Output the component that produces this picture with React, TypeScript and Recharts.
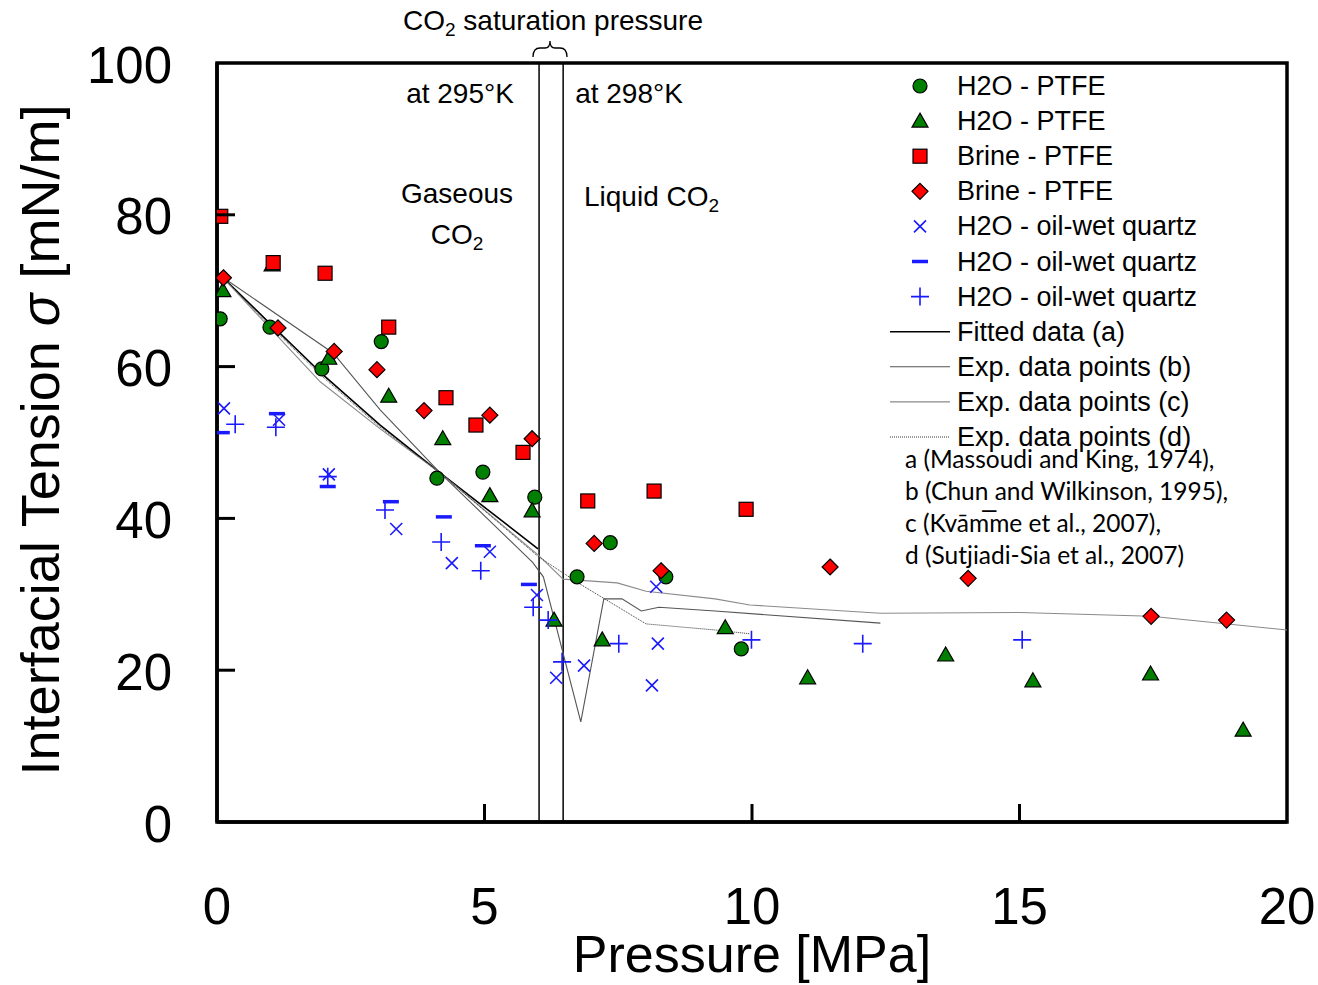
import React from 'react';
import { ScatterChart, Scatter, XAxis, YAxis, ReferenceLine, ReferenceArea } from 'recharts';

// ---------- data ----------
const h2oPtfeCircle: [number, number][] = [
  [0.06, 66.3], [0.99, 65.2], [1.96, 59.7], [3.07, 63.3], [4.11, 45.3], [4.97, 46.1],
  [5.94, 42.8], [6.73, 32.3], [7.35, 36.8], [8.39, 32.3], [9.8, 22.8],
];
const h2oPtfeTriangle: [number, number][] = [
  [0.11, 70.0], [1.03, 73.4], [2.09, 61.1], [3.21, 56.1], [4.22, 50.5], [5.1, 43.0],
  [5.89, 41.0], [6.3, 26.6], [7.2, 24.0], [9.5, 25.6], [11.04, 19.0], [13.62, 22.0],
  [15.25, 18.6], [17.45, 19.5], [19.18, 12.1],
];
const brinePtfeSquare: [number, number][] = [
  [0.07, 79.8], [1.05, 73.7], [2.02, 72.3], [3.21, 65.2], [4.28, 55.9], [4.84, 52.3],
  [5.72, 48.7], [6.93, 42.3], [8.17, 43.6], [9.89, 41.2],
];
const brinePtfeDiamond: [number, number][] = [
  [0.12, 71.7], [1.14, 65.1], [2.19, 62.0], [2.99, 59.6], [3.87, 54.2], [5.1, 53.6],
  [5.89, 50.5], [7.05, 36.7], [8.3, 33.1], [11.46, 33.6], [14.04, 32.1], [17.46, 27.1],
  [18.87, 26.6],
];
const h2oQuartzCross: [number, number][] = [
  [0.13, 54.5], [1.16, 53.0], [2.09, 45.8], [3.35, 38.6], [4.39, 34.1], [5.1, 35.6],
  [5.98, 29.9], [6.34, 19.0], [6.86, 20.6], [8.21, 31.0], [8.24, 23.5], [8.13, 18.0],
];
const h2oQuartzDash: [number, number][] = [
  [0.09, 51.3], [1.12, 53.8], [2.07, 44.2], [3.25, 42.2], [4.24, 40.2], [4.97, 36.4],
  [5.83, 31.3],
];
const h2oQuartzPlus: [number, number][] = [
  [0.34, 52.4], [1.1, 52.0], [2.07, 45.5], [3.14, 41.1], [4.19, 36.9], [4.93, 33.1],
  [5.91, 28.3], [6.19, 26.6], [6.45, 21.1], [7.51, 23.5], [9.99, 24.0], [12.07, 23.5],
  [15.05, 24.0],
];
const fittedA: [number, number][] = [
  [0.1, 71.8], [1.0, 65.6], [2.0, 58.8], [3.05, 52.3], [4.17, 46.0], [6.0, 36.0],
];
const expB: [number, number][] = [
  [0.1, 71.8], [2.17, 61.8], [3.05, 54.3], [4.17, 46.0], [5.9, 34.2], [6.1, 32.3],
  [6.8, 13.2], [7.23, 29.4], [7.57, 29.4], [7.93, 27.8], [8.26, 28.3], [9.31, 27.8],
  [12.4, 26.2],
];
const expC: [number, number][] = [
  [0.1, 71.8], [1.0, 65.0], [1.93, 58.0], [3.05, 51.8], [4.17, 46.0], [6.0, 35.2],
  [6.47, 32.0], [7.48, 31.5], [8.02, 30.4], [9.31, 29.4], [9.96, 28.6], [12.4, 27.5],
  [15.0, 27.6], [17.46, 27.1], [20.0, 25.3],
];
const expD: [number, number][] = [
  [0.1, 71.8], [1.0, 65.3], [2.0, 58.5], [3.05, 52.0], [4.17, 46.0], [6.0, 35.0],
  [6.75, 31.5], [8.02, 26.1], [9.31, 25.3], [9.96, 24.8],
];
const xTicks = [0, 5, 10, 15, 20];
const yTicks = [0, 20, 40, 60, 80, 100];
const saturationPressures = [6.02, 6.47];

const toPts = (a: [number, number][]) => a.map(([x, y]) => ({ x, y }));

// ---------- styles ----------
const GREEN = '#007f00';
const RED = '#ff0000';
const BLUE = '#1a1aff';
const FONT = '"Liberation Sans", Arial, sans-serif';

const CircleM = ({ cx, cy }: any) => (
  <circle cx={cx} cy={cy} r={7} fill={GREEN} stroke="#000" strokeWidth={1.2} />
);
const TriM = ({ cx, cy }: any) => (
  <path d={`M${cx},${cy - 8}L${cx + 8},${cy + 6}L${cx - 8},${cy + 6}Z`} fill={GREEN} stroke="#000" strokeWidth={1.2} />
);
const SquareM = ({ cx, cy }: any) => (
  <rect x={cx - 7} y={cy - 7} width={14} height={14} fill={RED} stroke="#000" strokeWidth={1.2} />
);
const DiamondM = ({ cx, cy }: any) => (
  <path d={`M${cx},${cy - 8}L${cx + 8},${cy}L${cx},${cy + 8}L${cx - 8},${cy}Z`} fill={RED} stroke="#000" strokeWidth={1.2} />
);
const CrossM = ({ cx, cy }: any) => (
  <path d={`M${cx - 6},${cy - 6}L${cx + 6},${cy + 6}M${cx + 6},${cy - 6}L${cx - 6},${cy + 6}`} stroke={BLUE} strokeWidth={1.6} fill="none" />
);
const DashM = ({ cx, cy }: any) => (
  <line x1={cx - 8} x2={cx + 8} y1={cy} y2={cy} stroke={BLUE} strokeWidth={3.5} />
);
const PlusM = ({ cx, cy }: any) => (
  <path d={`M${cx - 9},${cy}L${cx + 9},${cy}M${cx},${cy - 9}L${cx},${cy + 9}`} stroke={BLUE} strokeWidth={1.6} fill="none" />
);
const NoShape = () => <g />;

const markerSeries = [
  { name: 'H2O - PTFE', data: h2oPtfeCircle, Shape: CircleM },
  { name: 'H2O - PTFE', data: h2oPtfeTriangle, Shape: TriM },
  { name: 'Brine - PTFE', data: brinePtfeSquare, Shape: SquareM },
  { name: 'Brine - PTFE', data: brinePtfeDiamond, Shape: DiamondM },
  { name: 'H2O - oil-wet quartz', data: h2oQuartzCross, Shape: CrossM },
  { name: 'H2O - oil-wet quartz', data: h2oQuartzDash, Shape: DashM },
  { name: 'H2O - oil-wet quartz', data: h2oQuartzPlus, Shape: PlusM },
];
const lineSeries = [
  { name: 'Fitted data (a)', data: fittedA, stroke: '#000', width: 1.6, dash: undefined as string | undefined },
  { name: 'Exp. data points (b)', data: expB, stroke: '#555', width: 1.1, dash: undefined },
  { name: 'Exp. data points (c)', data: expC, stroke: '#8a8a8a', width: 1.1, dash: undefined },
  { name: 'Exp. data points (d)', data: expD, stroke: '#333', width: 1, dash: '1 1' },
];
const citations = [
  'a (Massoudi and King, 1974),',
  'b (Chun and Wilkinson, 1995),',
  'c (Kva\u0304m\u0305me et al., 2007),',
  'd (Sutjiadi-Sia et al., 2007)',
];

const X_GAP = 84;
const Y_GAP = 45;
const TICK_LEN = 18;

const XTick = ({ x, y, payload }: any) => {
  const v = payload.value;
  const inner = v !== xTicks[0] && v !== xTicks[xTicks.length - 1];
  return (
    <g>
      <text x={x} y={y} textAnchor="middle" dominantBaseline="central" fontSize={51} fontFamily={FONT} fill="#000">
        {v}
      </text>
      {inner && <line x1={x} x2={x} y1={y - X_GAP} y2={y - X_GAP - TICK_LEN} stroke="#000" strokeWidth={3} />}
    </g>
  );
};
const YTick = ({ x, y, payload }: any) => {
  const v = payload.value;
  const inner = v !== yTicks[0] && v !== yTicks[yTicks.length - 1];
  return (
    <g>
      <text x={x} y={y + 2} textAnchor="end" dominantBaseline="central" fontSize={51} fontFamily={FONT} fill="#000">
        {v}
      </text>
      {inner && <line x1={x + Y_GAP} x2={x + Y_GAP + TICK_LEN} y1={y} y2={y} stroke="#000" strokeWidth={3} />}
    </g>
  );
};

export default function App() {
  const legendX = 920;
  const legendY0 = 86;
  const legendStep = 35.1;
  return (
    <div style={{ position: 'absolute', left: 0, top: 0, width: 1318, height: 985, background: '#fff' }}>
      <ScatterChart width={1318} height={985} margin={{ top: 63, right: 31, bottom: 103, left: 157 }}>
        <XAxis
          type="number"
          dataKey="x"
          domain={[0, 20]}
          ticks={xTicks}
          allowDataOverflow
          height={60}
          axisLine={{ stroke: '#000', strokeWidth: 3.5 }}
          tickLine={false}
          tickSize={0}
          tickMargin={X_GAP}
          tick={<XTick />}
          interval={0}
        />
        <YAxis
          type="number"
          dataKey="y"
          domain={[0, 100]}
          ticks={yTicks}
          allowDataOverflow
          width={60}
          axisLine={{ stroke: '#000', strokeWidth: 3.5 }}
          tickLine={false}
          tickSize={0}
          tickMargin={Y_GAP}
          tick={<YTick />}
          interval={0}
        />
        <ReferenceArea x1={0} x2={20} y1={0} y2={100} fill="none" stroke="#000" strokeWidth={3.5} />
        {saturationPressures.map((p) => (
          <ReferenceLine key={p} x={p} stroke="#000" strokeWidth={1.5} />
        ))}
        {lineSeries.map((s, i) => (
          <Scatter
            key={'l' + i}
            name={s.name}
            data={toPts(s.data)}
            line={{ stroke: s.stroke, strokeWidth: s.width, strokeDasharray: s.dash, fill: 'none' }}
            shape={NoShape}
            legendType="none"
            isAnimationActive={false}
          />
        ))}
        {markerSeries.map((s, i) => (
          <Scatter
            key={'m' + i}
            name={s.name}
            data={toPts(s.data)}
            shape={(p: any) => <s.Shape cx={p.cx} cy={p.cy} />}
            isAnimationActive={false}
          />
        ))}
      </ScatterChart>
      <svg width={1318} height={985} style={{ position: 'absolute', left: 0, top: 0, pointerEvents: 'none' }}>
        <g fontFamily={FONT} fill="#000">
          {/* axis titles */}
          <text x={752} y={972} textAnchor="middle" fontSize={52}>Pressure [MPa]</text>
          <text transform="translate(40,440) rotate(-90)" textAnchor="middle" dominantBaseline="central" fontSize={54}>
            Interfacial Tension <tspan fontStyle="italic">σ</tspan> [mN/m]
          </text>
          {/* annotations */}
          <text x={553} y={30} textAnchor="middle" fontSize={28}>
            CO<tspan fontSize={19} dy={6}>2</tspan><tspan dy={-6}> saturation pressure</tspan>
          </text>
          <path d="M533,57 Q533,48 540,48 L545,48 Q550,48 550,41 Q550,48 555,48 L560,48 Q567,48 567,57" fill="none" stroke="#000" strokeWidth={1.3} />
          <text x={460} y={103} textAnchor="middle" fontSize={28}>at 295°K</text>
          <text x={629} y={103} textAnchor="middle" fontSize={28}>at 298°K</text>
          <text x={457} y={203} textAnchor="middle" fontSize={28}>Gaseous</text>
          <text x={457} y={244} textAnchor="middle" fontSize={28}>
            CO<tspan fontSize={19} dy={6}>2</tspan>
          </text>
          <text x={584} y={206} fontSize={28}>
            Liquid CO<tspan fontSize={19} dy={6}>2</tspan>
          </text>
          {/* legend */}
          {markerSeries.map((s, i) => {
            const y = legendY0 + i * legendStep;
            return (
              <g key={'lg' + i}>
                <s.Shape cx={legendX} cy={y} />
                <text x={957} y={y} dominantBaseline="central" fontSize={27}>{s.name}</text>
              </g>
            );
          })}
          {lineSeries.map((s, i) => {
            const y = legendY0 + (markerSeries.length + i) * legendStep;
            return (
              <g key={'ll' + i}>
                <line x1={890} x2={950} y1={y} y2={y} stroke={s.stroke} strokeWidth={s.width} strokeDasharray={s.dash} />
                <text x={957} y={y} dominantBaseline="central" fontSize={27}>{s.name}</text>
              </g>
            );
          })}
          {citations.map((c, i) => (
            <text key={'c' + i} x={905} y={468 + i * 32} fontSize={24.5} fontFamily='Lato, "Liberation Sans", sans-serif'>
              {c}
            </text>
          ))}
        </g>
      </svg>
    </div>
  );
}
